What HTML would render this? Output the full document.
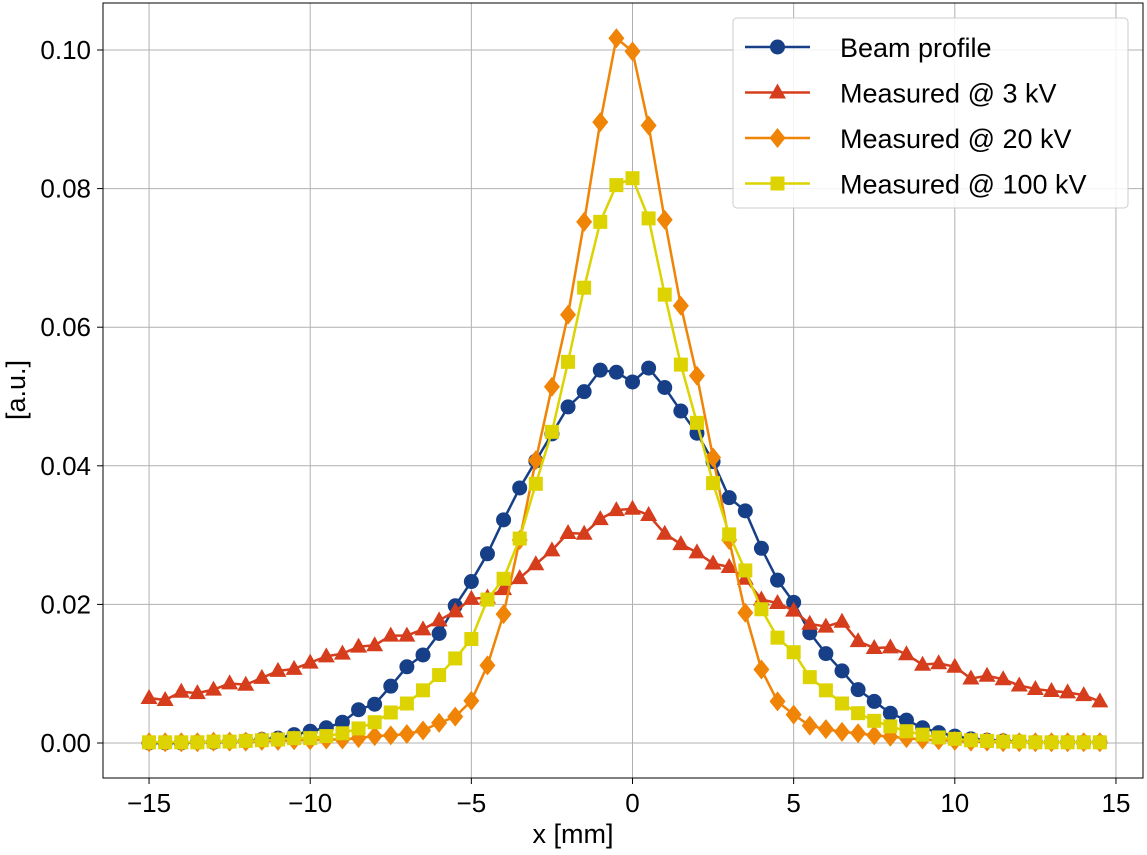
<!DOCTYPE html>
<html><head><meta charset="utf-8"><style>
body{margin:0;background:#fff;}
svg text{font-family:"Liberation Sans",sans-serif;fill:#000;}
</style></head><body>
<svg id="c" width="1147" height="850"></svg>
<script>
const xs=[];for(let i=0;i<60;i++)xs.push(-15+0.5*i);
const beam=[0,0,0,0.0001,0.0001,0.0002,0.0003,0.0005,0.0007,0.0012,0.0017,0.0022,0.003,0.0048,0.0056,0.0082,0.011,0.0127,0.0158,0.0198,0.0233,0.0273,0.0322,0.0368,0.0407,0.0446,0.0485,0.0507,0.0538,0.0535,0.0521,0.0541,0.0513,0.0479,0.0447,0.0406,0.0354,0.0335,0.0281,0.0235,0.0203,0.0159,0.0129,0.0104,0.0077,0.006,0.0043,0.0033,0.0022,0.0015,0.001,0.0006,0.0004,0.0003,0.0002,0.0001,0.0001,0.0001,0.0001,0.0001];
const kv3=[0.0065,0.0062,0.0074,0.0072,0.0077,0.0086,0.0084,0.0094,0.0104,0.0107,0.0116,0.0125,0.0129,0.0139,0.0141,0.0155,0.0155,0.0164,0.0177,0.019,0.0208,0.021,0.0222,0.0238,0.0258,0.0278,0.0303,0.0302,0.0323,0.0336,0.0338,0.0329,0.0302,0.0287,0.0275,0.0259,0.0254,0.0237,0.0207,0.0202,0.0191,0.0172,0.0168,0.0175,0.0147,0.0137,0.0138,0.0128,0.0113,0.0115,0.011,0.0093,0.0097,0.0092,0.0083,0.0078,0.0075,0.0073,0.0069,0.006];
const kv20=[0.0001,0.0001,0.0001,0.0001,0.0002,0.0002,0.0002,0.0003,0.0003,0.0004,0.0004,0.0005,0.0005,0.0007,0.001,0.0011,0.0013,0.0018,0.0029,0.0038,0.0061,0.0112,0.0186,0.0293,0.0408,0.0514,0.0618,0.0752,0.0896,0.1017,0.0998,0.0891,0.0755,0.0631,0.053,0.0412,0.0293,0.0188,0.0106,0.006,0.0041,0.0025,0.002,0.0016,0.0014,0.0011,0.0009,0.0007,0.0005,0.0004,0.0003,0.0002,0.0002,0.0001,0.0001,0.0001,0.0001,0.0001,0.0001,0.0001];
const kv100=[0.0001,0.0001,0.0001,0.0001,0.0002,0.0002,0.0003,0.0004,0.0005,0.0007,0.0007,0.001,0.0014,0.0021,0.003,0.0044,0.0057,0.0076,0.0098,0.0122,0.015,0.0207,0.0237,0.0295,0.0374,0.0449,0.055,0.0657,0.0752,0.0805,0.0815,0.0757,0.0647,0.0546,0.0462,0.0375,0.0301,0.0249,0.0193,0.0152,0.0131,0.0095,0.0076,0.0057,0.0043,0.0032,0.0024,0.0017,0.0012,0.0008,0.0006,0.0004,0.0003,0.0002,0.0002,0.0001,0.0001,0.0001,0.0001,0.0001];
const xticks=[-15,-10,-5,0,5,10,15];
const xtickLabels=["\u221215","\u221210","\u22125","0","5","10","15"];
const yticks=[0,0.02,0.04,0.06,0.08,0.10];
const ytickLabels=["0.00","0.02","0.04","0.06","0.08","0.10"];
const seriesNames=["Beam profile","Measured @ 3 kV","Measured @ 20 kV","Measured @ 100 kV"];

const L=103,R=1143,T=3,B=778;
const X=v=>632.5+v*32.23;
const Y=v=>743-v*6930;
const svg=document.getElementById('c');
const NS='http://www.w3.org/2000/svg';
function mk(t,a,p){const e=document.createElementNS(NS,t);for(const k in a)e.setAttribute(k,a[k]);(p||svg).appendChild(e);return e;}
xticks.forEach((t,i)=>{
  const g=mk('line',{x1:X(t),x2:X(t),y1:T,y2:B,stroke:'#b0b0b0','stroke-width':1});
  
  
  const tk=mk('line',{x1:X(t),x2:X(t),y1:B,y2:B+6,stroke:'#000','stroke-width':1});
  
  
  const lb=mk('text',{x:X(t),y:B+34,'text-anchor':'middle','font-size':26});
  lb.textContent=xtickLabels[i];
  
  
});
yticks.forEach((t,i)=>{
  const g=mk('line',{x1:L,x2:R,y1:Y(t),y2:Y(t),stroke:'#b0b0b0','stroke-width':1});
  
  
  const tk=mk('line',{x1:L-6,x2:L,y1:Y(t),y2:Y(t),stroke:'#000','stroke-width':1});
  
  
  const lb=mk('text',{x:L-12,y:Y(t)+9,'text-anchor':'end','font-size':26});
  lb.textContent=ytickLabels[i];
  
  
});
const fr=mk('rect',{x:L,y:T,width:R-L,height:B-T,fill:'none',stroke:'#000','stroke-width':1});


const xt=mk('text',{x:(L+R)/2-50,y:843,'text-anchor':'middle','font-size':27});
xt.textContent='x [mm]';


const yt=mk('text',{x:0,y:0,'text-anchor':'middle','font-size':27,transform:'translate(25,390) rotate(-90)'});
yt.textContent='[a.u.]';



function marker(type,cx,cy,col,p){
  let e;
  if(type==='circle')e=mk('circle',{cx,cy,r:7.5,fill:col},p);
  else if(type==='tri')e=mk('polygon',{points:`${cx},${cy-9} ${cx+8.5},${cy+6} ${cx-8.5},${cy+6}`,fill:col},p);
  else if(type==='dia')e=mk('polygon',{points:`${cx},${cy-10} ${cx+8},${cy} ${cx},${cy+10} ${cx-8},${cy}`,fill:col},p);
  else e=mk('rect',{x:cx-7,y:cy-7,width:14,height:14,fill:col},p);
  return e;
}
const defs=[[beam,'#173f87','circle','beam-profile'],[kv3,'#d63d1c','tri','measured-3kv'],[kv20,'#ef8406','dia','measured-20kv'],[kv100,'#dcd300','sq','measured-100kv']];
defs.forEach(([d,col,m,nm])=>{
  const g=mk('g',{});
  
  
  const pl=mk('polyline',{points:d.map((v,i)=>X(xs[i])+','+Y(v)).join(' '),fill:'none',stroke:col,'stroke-width':2.5},g);
  
  
  d.forEach((v,i)=>{const e=marker(m,X(xs[i]),Y(v),col,g);
    
    });
});
const lg=mk('g',{});


mk('rect',{x:733,y:18,width:395,height:190,rx:4,fill:'#fff','fill-opacity':0.85,stroke:'#ccc'},lg);
defs.forEach(([d,col,m,nm],i)=>{
  const y=47+i*45.5;
  const it=mk('g',{},lg);
  
  
  mk('line',{x1:745,x2:810,y1:y,y2:y,stroke:col,'stroke-width':2.5},it);
  marker(m,777.5,y,col,it);
  const t=mk('text',{x:840,y:y+10,'font-size':27},it);
  t.textContent=seriesNames[i];
});
</script>
</body></html>
